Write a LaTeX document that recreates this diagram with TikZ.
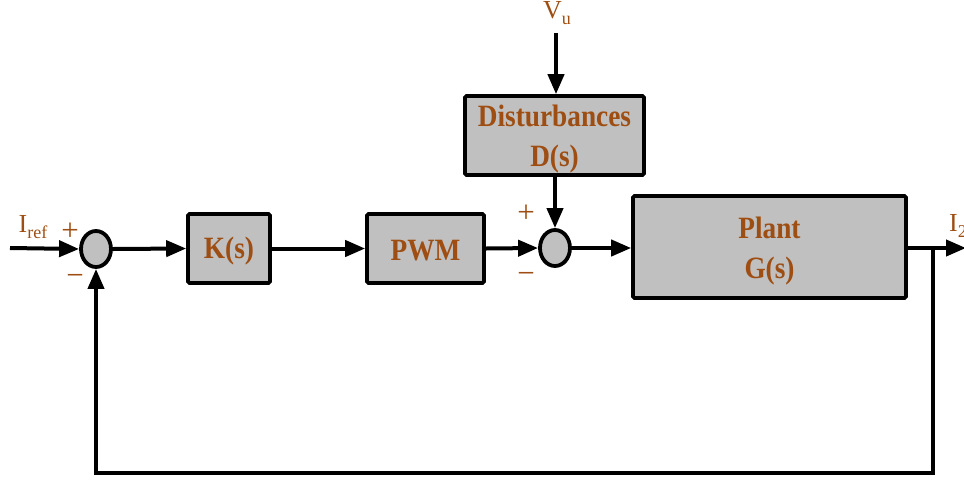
\documentclass[tikz,border=0pt]{standalone}
\usepackage{fontspec}
\setmainfont{Liberation Serif}
\newfontfamily\blockfont[FakeStretch=0.88]{Liberation Serif}
\usetikzlibrary{arrows.meta,shapes.geometric}
\definecolor{lblbrown}{RGB}{158,78,18}
\definecolor{blockgray}{RGB}{192,192,192}
\tikzset{
  block/.style={draw=black,line width=3.6pt,fill=blockgray,inner sep=0pt,rounded corners=1.5pt},
  blocklabel/.style={text=lblbrown,font=\blockfont\bfseries\fontsize{31}{40}\selectfont,
    align=center,inner sep=0pt},
  sumjn/.style={ellipse,draw=black,line width=3.8pt,fill=blockgray,
    minimum width=30pt,minimum height=36pt,inner sep=0pt},
  sig/.style={line width=4pt,line join=miter,-{Triangle[length=20pt,width=16pt]}},
  signame/.style={text=lblbrown,font=\fontsize{26}{28}\selectfont,inner sep=0pt},
  signtext/.style={text=lblbrown,font=\fontsize{31}{31}\selectfont,inner sep=0pt}
}
\newcommand{\subtxt}[1]{\raisebox{-6pt}{\fontsize{18}{18}\selectfont #1}}
\begin{document}
\begin{tikzpicture}[x=1pt,y=-1pt]
\useasboundingbox (0,0) rectangle (964,483);

% summing junctions
\node[sumjn] (sum1) at (96,249) {};
\node[sumjn] (sum2) at (555,248) {};

% blocks
\node[block,minimum width=82pt,minimum height=69pt] (K) at (229,248.5) {};
\node[block,minimum width=117pt,minimum height=69pt] (PWM) at (425.5,248.5) {};
\node[block,minimum width=179pt,minimum height=79pt] (D) at (554.5,135.5) {};
\node[block,minimum width=273pt,minimum height=102pt] (P) at (769.5,247) {};

% block contents
\node[blocklabel] (Ktxt) at ([yshift=-3pt]K.center) {K(s)};
\node[blocklabel] (PWMtxt) at ([yshift=-2pt]PWM.center) {PWM};
\node[blocklabel] (Dtxt) at ([yshift=-4pt]D.center) {Disturbances\\D(s)};
\node[blocklabel] (Ptxt) at ([yshift=-4pt]P.center) {Plant\\G(s)};

% signal labels
\node[signame] (iref) at (33,227) {I\subtxt{ref}};
\node[signame] (vu) at (557,13) {V\subtxt{u}};
\node[signame,anchor=west] (i2) at (949,226) {I\subtxt{2}};

% signs at the junctions
\node[signtext] (p1) at (70,232) {+};
\node[signtext] (m1) at (75,280) {−};
\node[signtext] (p2) at (526,214) {+};
\node[signtext] (m2) at (526,278) {−};

% free ends and corners
\coordinate (in) at (10,248);
\coordinate (vutop) at (556,33);
\coordinate (out) at (966,248);
\coordinate (br) at (933,248);
\coordinate (fbl) at (96,473);

% forward path
\draw[sig] (in) -- (sum1.west);
\draw[sig] (sum1.east) -- (K.west);
\draw[sig] (K.east) -- (PWM.west);
\draw[sig] (PWM.east) -- (sum2.west);
\draw[sig] (sum2.east) -- (sum2.east -| P.west);
\draw[sig] (vutop) -- (vutop |- D.north);
\draw[sig] (D.south -| sum2.north) -- (sum2.north);
\draw[sig] (P.east |- out) -- (out);

% feedback path
\draw[sig] (br) -- (br |- fbl) -- (fbl) -- (sum1.south);
\end{tikzpicture}
\end{document}
